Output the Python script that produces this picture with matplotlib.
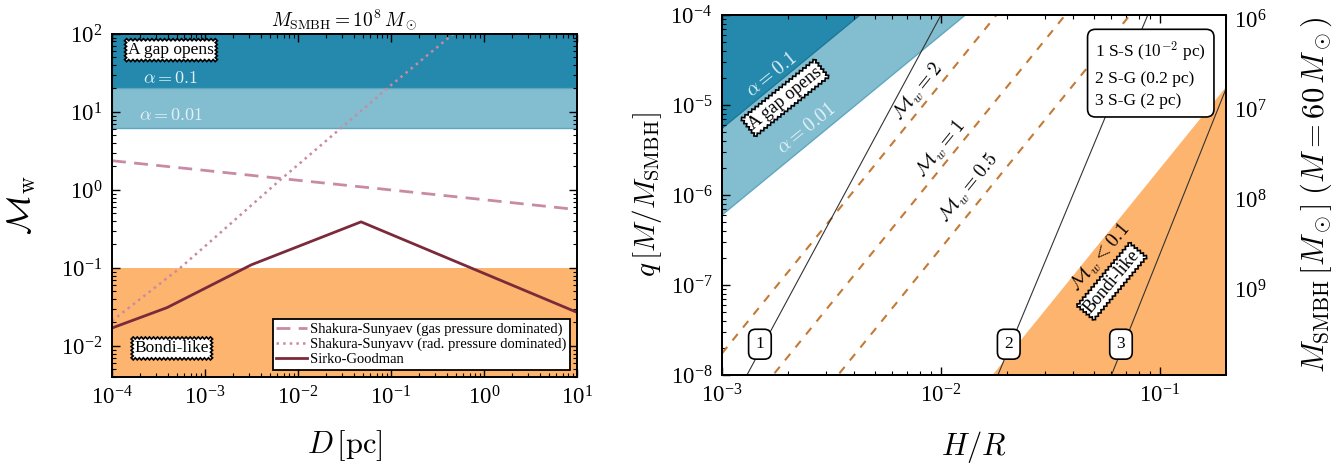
import numpy as np
import matplotlib
matplotlib.use("Agg")
import matplotlib.pyplot as plt
from matplotlib.ticker import FuncFormatter, LogLocator, NullFormatter, NullLocator

plt.rcParams['font.family'] = ['Liberation Serif', 'DejaVu Serif']
plt.rcParams['mathtext.fontset'] = 'cm'

# ---- colours
dark_blue = '#2489ad'
light_blue = '#83bdd0'
orange = '#fdb46e'
ss_col = '#c98aa4'
sg_col = '#7b2a3b'
mw_col = '#c47a35'

# ---- left panel data: Mach number vs distance (M_SMBH = 1e8 Msun)
D_ss = [1e-4, 1e-3, 1e-2, 1e-1, 1e0, 1e1]
mw_ss_gas = [2.37, 1.78, 1.33, 1.0, 0.75, 0.56]
D_ssr = [1e-4, 5.4e-4, 1e-3, 6.4e-3, 1e-2, 1e-1, 0.5]
mw_ss_rad = [0.021, 0.10, 0.19, 1.34, 2.1, 22.0, 107.0]
D_sg = [1e-4, 3.9e-4, 3.16e-3, 4.76e-2, 1e1]
mw_sg = [0.017, 0.031, 0.11, 0.39, 0.027]

mw_gap_a01 = 20.0
mw_gap_a001 = 6.3
mw_bondi = 0.1

# ---- right panel data: q vs H/R
hr_gap = [1e-3, 1e-2, 0.2]
q_gap_a01 = [5.5e-6, 5.5e-4, 0.22]
q_gap_a001 = [6.0e-7, 6.0e-5, 0.024]

hr_mw = [1e-3, 0.2]
q_mw2 = [1.74e-8, 0.139]
q_mw1 = [2.0e-9, 0.0158]
q_mw05 = [2.57e-10, 2.06e-3]
q_mw01 = [1.95e-12, 1.58e-5]

hr_disk1 = [1.3e-3, 1.0e-2]
q_disk1 = [1e-8, 1e-4]
hr_disk2 = [0.0182, 0.088]
q_disk2 = [1e-8, 1e-4]
hr_disk3 = [0.0601, 0.2]
q_disk3 = [1e-8, 1.5e-5]

disk_ids = ['1', '2', '3']
disk_lab_hr = [1.49e-3, 0.0204, 0.0664]
disk_lab_q = [2.2e-8, 2.2e-8, 2.2e-8]


def pow10(v, pos):
    e = int(round(np.log10(v)))
    return r'$\mathregular{10^{%d}}$' % e


def style_log(ax, right=True):
    ax.xaxis.set_major_formatter(FuncFormatter(pow10))
    ax.yaxis.set_major_formatter(FuncFormatter(pow10))
    ax.xaxis.set_minor_formatter(NullFormatter())
    ax.yaxis.set_minor_formatter(NullFormatter())
    ax.xaxis.set_minor_locator(LogLocator(subs=np.arange(2, 10)))
    ax.yaxis.set_minor_locator(LogLocator(subs=np.arange(2, 10)))
    ax.tick_params(which='both', direction='in', top=True, right=right, labelsize=16.5)
    ax.tick_params(which='major', length=6, width=1.0, pad=7)
    ax.tick_params(which='minor', length=3, width=0.8)
    for s in ax.spines.values():
        s.set_linewidth(1.4)


fig = plt.figure(figsize=(13.4, 4.63), dpi=100)

# ================= left panel
ax = fig.add_axes([0.0836, 0.1857, 0.347, 0.741])
ax.set_xscale('log')
ax.set_yscale('log')
ax.set_xlim(1e-4, 1e1)
ax.set_ylim(0.004, 100)

ax.axhspan(mw_gap_a01, 1000, facecolor=dark_blue, edgecolor='#1d7898', lw=1, zorder=0)
ax.axhspan(mw_gap_a001, mw_gap_a01, facecolor=light_blue, edgecolor='#5fa7c0', lw=1, zorder=0)
ax.axhspan(1e-5, mw_bondi, facecolor=orange, edgecolor='none', zorder=0)

ax.plot(D_ss, mw_ss_gas, color=ss_col, lw=2, dashes=(5, 3),
        label='Shakura-Sunyaev (gas pressure dominated)')
ax.plot(D_ssr, mw_ss_rad, color=ss_col, lw=1.8, linestyle=':',
        label='Shakura-Sunyavv (rad. pressure dominated)')
ax.plot(D_sg, mw_sg, color=sg_col, lw=2, label='Sirko-Goodman')

leg = ax.legend(loc='lower right', fontsize=10.5, labelspacing=0.12, handlelength=2.1,
                handletextpad=0.2, borderpad=0.25, borderaxespad=0.5, fancybox=False,
                framealpha=1, edgecolor='black')
leg.get_frame().set_linewidth(1.3)

box_saw = dict(boxstyle='sawtooth,pad=0.2,tooth_size=0.12', fc='white', ec='black', lw=1.2)
ax.text(4.3e-4, 62, 'A gap opens', fontsize=12.5, ha='center', va='center', bbox=box_saw)
ax.text(4.3e-4, 27, r'$\alpha = 0.1$', fontsize=13, ha='center', va='center', color='#e4f2f7')
ax.text(4.3e-4, 9.1, r'$\alpha = 0.01$', fontsize=13, ha='center', va='center', color='#e4f2f7')
ax.text(4.4e-4, 0.0093, 'Bondi-like', fontsize=12.5, ha='center', va='center', bbox=box_saw)

ax.set_title(r'$M_{\rm SMBH} = 10^8\,M_\odot$', fontsize=14, pad=6)
ax.set_xlabel(r'$D\,[\rm pc]$', fontsize=22)
ax.set_ylabel(r'$\mathcal{M}_{\rm w}$', fontsize=24)
ax.xaxis.set_label_coords(0.5, -0.15)
ax.yaxis.set_label_coords(-0.16, 0.5)
style_log(ax)

# ================= right panel
axr = fig.add_axes([0.5388, 0.19, 0.376, 0.7775])
axr.set_xscale('log')
axr.set_yscale('log')
axr.set_xlim(1e-3, 0.2)
axr.set_ylim(1e-8, 1e-4)

axr.fill_between(hr_gap, q_gap_a001, 1.0, facecolor=light_blue, edgecolor='#5fa7c0', lw=1, zorder=0)
axr.fill_between(hr_gap, q_gap_a01, 1.0, facecolor=dark_blue, edgecolor='#1d7898', lw=1, zorder=0)
axr.fill_between(hr_mw, 1e-12, q_mw01, facecolor=orange, edgecolor='none', zorder=0)

for qq in (q_mw2, q_mw1, q_mw05):
    axr.plot(hr_mw, qq, color=mw_col, lw=1.5, dashes=(4, 4), zorder=2)

for hh, qq in ((hr_disk1, q_disk1), (hr_disk2, q_disk2), (hr_disk3, q_disk3)):
    axr.plot(hh, qq, color='#333333', lw=0.8, zorder=2)

box_round = dict(boxstyle='round,pad=0.4', fc='white', ec='black', lw=1.2)
for lab, hh, qq in zip(disk_ids, disk_lab_hr, disk_lab_q):
    axr.text(hh, qq, lab, fontsize=12.5, ha='center', va='center', bbox=box_round, zorder=5)

axr.text(0.851, 0.835, '1 S-S ($10^{-2}$ pc)\n2 S-G (0.2 pc)\n3 S-G (2 pc)',
         transform=axr.transAxes, fontsize=12.5, ha='center', va='center',
         multialignment='left', linespacing=1.55,
         bbox=dict(boxstyle='round,pad=0.45', fc='white', ec='black', lw=1.2), zorder=6)

blue_txt = '#e4f2f7'
axr.text(1.69e-3, 2.15e-5, r'$\alpha = 0.1$', fontsize=14, rotation=39, color=blue_txt,
         ha='center', va='center', rotation_mode='anchor')
axr.text(1.94e-3, 1.2e-5, 'A gap opens', fontsize=13, rotation=39, ha='center', va='center',
         rotation_mode='anchor', bbox=box_saw, zorder=5)
axr.text(2.44e-3, 5.5e-6, r'$\alpha = 0.01$', fontsize=14, rotation=39, color=blue_txt,
         ha='center', va='center', rotation_mode='anchor')

axr.text(7.9e-3, 1.4e-5, r'$\mathcal{M}_w = 2$', fontsize=14, rotation=51,
         ha='center', va='center', rotation_mode='anchor')
axr.text(1.0e-2, 3.2e-6, r'$\mathcal{M}_w = 1$', fontsize=14, rotation=51,
         ha='center', va='center', rotation_mode='anchor')
axr.text(1.34e-2, 1.2e-6, r'$\mathcal{M}_w = 0.5$', fontsize=14, rotation=51,
         ha='center', va='center', rotation_mode='anchor')
axr.text(0.0537, 2.0e-7, r'$\mathcal{M}_w < 0.1$', fontsize=14, rotation=50,
         ha='center', va='center', rotation_mode='anchor')
axr.text(0.0603, 1.1e-7, 'Bondi-like', fontsize=13, rotation=50, ha='center', va='center',
         rotation_mode='anchor', bbox=box_saw, zorder=5)

axr.set_xlabel(r'$H/R$', fontsize=22)
axr.set_ylabel(r'$q\,[M/M_{\rm SMBH}]$', fontsize=21)
axr.xaxis.set_label_coords(0.5, -0.15)
axr.yaxis.set_label_coords(-0.115, 0.5)
style_log(axr, right=False)

ax2 = axr.twinx()
ax2.set_yscale('log')
ax2.set_ylim(9e9, 9e5)
ax2.yaxis.set_major_locator(LogLocator(base=10, numticks=10))
ax2.yaxis.set_major_formatter(FuncFormatter(pow10))
ax2.yaxis.set_minor_locator(NullLocator())
ax2.tick_params(axis='y', length=0, labelsize=16.5, pad=6)
ax2.set_ylabel(r'$M_{\rm SMBH}\,[M_\odot]\;(M = 60\,M_\odot)$', fontsize=22)
ax2.yaxis.set_label_coords(1.145, 0.5)
for s in ax2.spines.values():
    s.set_linewidth(1.4)

fig.savefig('out.png', dpi=100)
